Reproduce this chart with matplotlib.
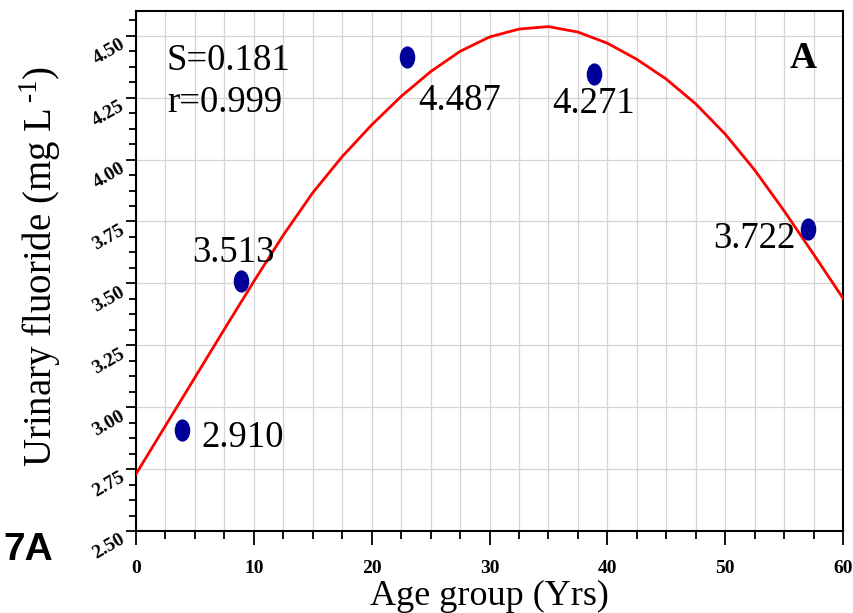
import matplotlib
matplotlib.use("Agg")
import matplotlib.pyplot as plt
from matplotlib.ticker import MultipleLocator
from matplotlib.markers import MarkerStyle
from matplotlib.transforms import Affine2D

# ---- data ----
age = [3.9, 8.9, 23.0, 38.9, 57.0]
fluoride = [2.908, 3.511, 4.413, 4.346, 3.720]
point_labels = ["2.910", "3.513", "4.487", "4.271", "3.722"]
label_pos_x = [5.52, 4.75, 23.94, 35.31, 48.98]
label_pos_y = [2.839, 3.586, 4.200, 4.188, 3.643]

curve_x = [0, 2.5, 5, 7.5, 10, 12.5, 15, 17.5, 20, 22.5, 25, 27.5, 30,
           32.5, 35, 37.5, 40, 42.5, 45, 47.5, 50, 52.5, 55, 57.5, 60]
curve_y = [2.73, 2.925, 3.120, 3.315, 3.508, 3.695, 3.866, 4.012, 4.140, 4.255,
           4.355, 4.437, 4.495, 4.527, 4.537, 4.515, 4.470, 4.405, 4.325, 4.225,
           4.103, 3.958, 3.793, 3.618, 3.44]

x_ticks = [0, 10, 20, 30, 40, 50, 60]
y_ticks = [2.50, 2.75, 3.00, 3.25, 3.50, 3.75, 4.00, 4.25, 4.50]
y_tick_labels = ["2.50", "2.75", "3.00", "3.25", "3.50", "3.75", "4.00", "4.25", "4.50"]

stats_text = ["S=0.181", "r=0.999"]

plt.rcParams['font.family'] = ['Liberation Serif', 'DejaVu Serif']
plt.rcParams['mathtext.fontset'] = 'custom'
plt.rcParams['mathtext.rm'] = 'Liberation Serif'

fig = plt.figure(figsize=(8.54, 6.13), dpi=100)
ax = fig.add_axes([136/854, 1-531/613, (843-136)/854, (531-11)/613])

ax.set_xlim(0, 60)
ax.set_ylim(2.5, 4.6)

ax.set_xticks(x_ticks)
ax.xaxis.set_minor_locator(MultipleLocator(2.5))
ax.set_yticks(y_ticks)
ax.yaxis.set_minor_locator(MultipleLocator(0.0625))
ax.grid(which='minor', axis='x', color='#d4d4d4', lw=0.9)
ax.grid(which='major', axis='x', color='#d4d4d4', lw=0.9)
ax.grid(which='major', axis='y', color='#d4d4d4', lw=0.9)
ax.set_axisbelow(True)

ax.plot(curve_x, curve_y, color='#ff0000', lw=2.0, zorder=3)

mk = MarkerStyle('o', transform=Affine2D().scale(0.7, 1.0))
ax.plot(age, fluoride, linestyle='none', marker=mk, markersize=16,
        color='#000099', markeredgewidth=0, zorder=4)

for t, x, y in zip(point_labels, label_pos_x, label_pos_y):
    ax.text(x, y, t, fontsize=26.5, va='baseline', ha='left', color='black', zorder=5)

ax.text(2.63, 4.362, stats_text[0], fontsize=26.5, va='baseline', ha='left')
ax.text(2.63, 4.192, stats_text[1], fontsize=26.5, va='baseline', ha='left')
ax.text(55.5, 4.368, "A", fontsize=27, fontweight='bold', va='baseline', ha='left')

for s in ax.spines.values():
    s.set_linewidth(1.5)

ax.tick_params(which='both', direction='out', top=False, right=False, width=1.3)
ax.tick_params(axis='x', which='major', length=10, pad=11, labelsize=14)
ax.tick_params(axis='x', which='minor', length=6)
ax.tick_params(axis='y', which='major', length=7, pad=5, labelsize=14)
ax.tick_params(axis='y', which='minor', length=5)

ax.set_xticklabels([str(v) for v in x_ticks], fontweight='bold', fontsize=14)
ax.set_yticklabels(y_tick_labels, fontweight='bold', fontsize=14)
for lab in ax.get_yticklabels():
    lab.set_rotation(30)
    lab.set_rotation_mode('anchor')
    lab.set_ha('right')
    lab.set_va('top')

fig.text(489.5/854, 1-596/613, "Age group (Yrs)", fontsize=26, ha='center', va='center')
fig.text(40/854, 1-266/613, r"Urinary fluoride (mg L$^{\,\text{-1}}$)", fontsize=28,
         ha='center', va='center', rotation=90)
fig.text(3/854, 1-560/613, "7A", fontsize=28, fontweight='bold',
         family=['Liberation Sans', 'DejaVu Sans'], ha='left', va='baseline')

fig.savefig("out.png", dpi=100)
